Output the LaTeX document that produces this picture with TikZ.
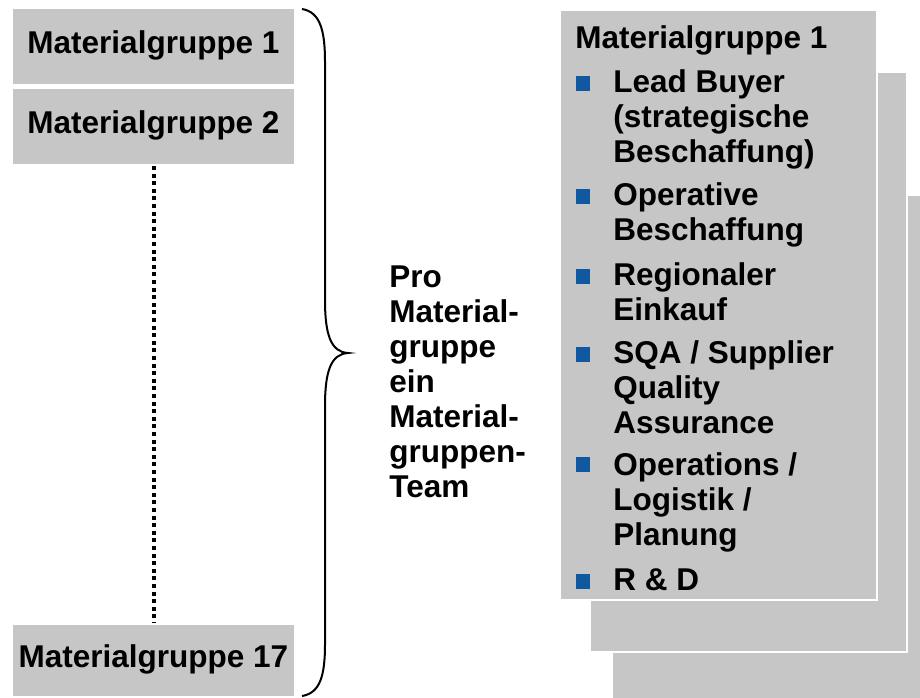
\documentclass[tikz,border=0pt]{standalone}
\usepackage{fontspec}
\setmainfont{Liberation Sans}
\usetikzlibrary{positioning}
\definecolor{boxgray}{RGB}{198,198,198}
\definecolor{bulletblue}{RGB}{16,88,160}

\tikzset{
	bigfont/.style={font=\bfseries\fontsize{15.75}{17.5}\selectfont},
	grpbox/.style={bigfont, fill=boxgray, draw=white, line width=1pt, inner sep=0pt,
		minimum width=141.5pt, text height=0.7em, text depth=0pt},
	card/.style={fill=boxgray, draw=white, line width=1pt, inner sep=0pt, minimum width=158.5pt},
	itemtext/.style={bigfont, anchor=base west, align=left, inner sep=0pt},
	bullet/.style={fill=bulletblue, minimum size=7.4pt, inner sep=0pt},
	dotline/.style={line width=2pt, dash pattern=on 2pt off 1.8pt},
	bracepath/.style={line width=1pt}
}

\begin{document}
\begin{tikzpicture}[x=0.5pt, y=-0.5pt]
		
		% ---------------------
		% Proper size --- Bounding box
		\useasboundingbox (0,0) rectangle (920,697);
		
		% ---------------------
		% Materialgruppen (links)
		\node[grpbox, minimum height=38.5pt] (MG1) at (153.5,46.5) {Materialgruppe 1};
		\node[grpbox, minimum height=38.5pt] (MG2) at (153.5,126.5) {Materialgruppe 2};
		\node[grpbox, minimum height=36.5pt] (MG17) at (153.5,660.5) {Materialgruppe 17};
		
		\draw[dotline] (MG2.south) -- (MG17.north);
		
		% ---------------------
		% Klammer
		\coordinate (BraceTop) at (302,9);
		\coordinate (BraceTip) at (348,353);
		\coordinate (BraceBot) at (302,696);
		
		\draw[bracepath] (BraceTop) .. controls (320,12) and (325,30) .. (325,62)
			-- (325,300) .. controls (325,335) and (331,352) .. (BraceTip)
			.. controls (331,354) and (325,371) .. (325,406)
			-- (325,644) .. controls (325,676) and (320,693) .. (BraceBot);
		
		% text is anchored at the baseline of its last line
		\node[itemtext] (Team) at (389,497) {Pro\\Material-\\gruppe\\ein\\Material-\\gruppen-\\Team};
		
		% ---------------------
		% Materialgruppen-Teams (rechts)
		\node[card, minimum width=160pt, minimum height=255pt] (Card3) at (772,450) {};
		\node[card, minimum height=290pt] (Card2) at (748.5,362) {};
		\node[card, minimum height=295pt] (Card1) at (718.5,305) {};
		
		\node[itemtext] (Head) at (575,48) {Materialgruppe 1};
		
		\node[itemtext] (Item1) at (613,162) {Lead Buyer\\(strategische\\Beschaffung)};
		\node[itemtext] (Item2) at (613,240) {Operative\\Beschaffung};
		\node[itemtext] (Item3) at (613,320) {Regionaler\\Einkauf};
		\node[itemtext] (Item4) at (613,433) {SQA / Supplier\\Quality\\Assurance};
		\node[itemtext] (Item5) at (613,545) {Operations /\\Logistik /\\Planung};
		\node[itemtext] (Item6) at (613,590) {R \& D};
		
		\node[bullet] (B1) at (583,83.5) {};
		\node[bullet] (B2) at (583,196.5) {};
		\node[bullet] (B3) at (583,276.5) {};
		\node[bullet] (B4) at (583,354.5) {};
		\node[bullet] (B5) at (583,464.5) {};
		\node[bullet] (B6) at (583,581.5) {};
		
\end{tikzpicture}
\end{document}
